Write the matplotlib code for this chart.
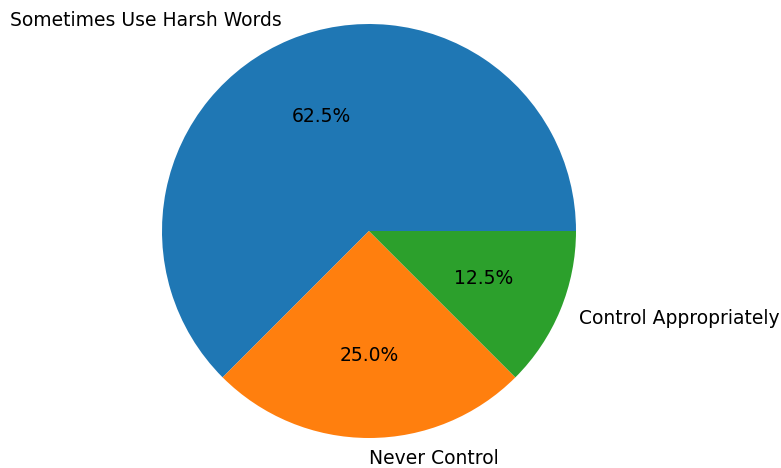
import matplotlib.pyplot as plt

labels = ['Sometimes Use Harsh Words', 'Never Control', 'Control Appropriately']
sizes = [62.5, 25.0, 12.5]

fig = plt.figure(figsize=(7.81, 4.68), dpi=100)
ax = fig.add_axes([0, 0, 1, 1])

ax.pie(sizes, labels=labels, autopct='%1.1f%%',
       textprops={'fontsize': 13.5})

# place the pie: center ~ (369, 231) px, radius ~ 207 px
r = 207.0
ax.set_xlim(-369 / r, (781 - 369) / r)
ax.set_ylim(-(468 - 231) / r, 231 / r)
ax.set_aspect('auto')

fig.savefig('out.png', dpi=100)
